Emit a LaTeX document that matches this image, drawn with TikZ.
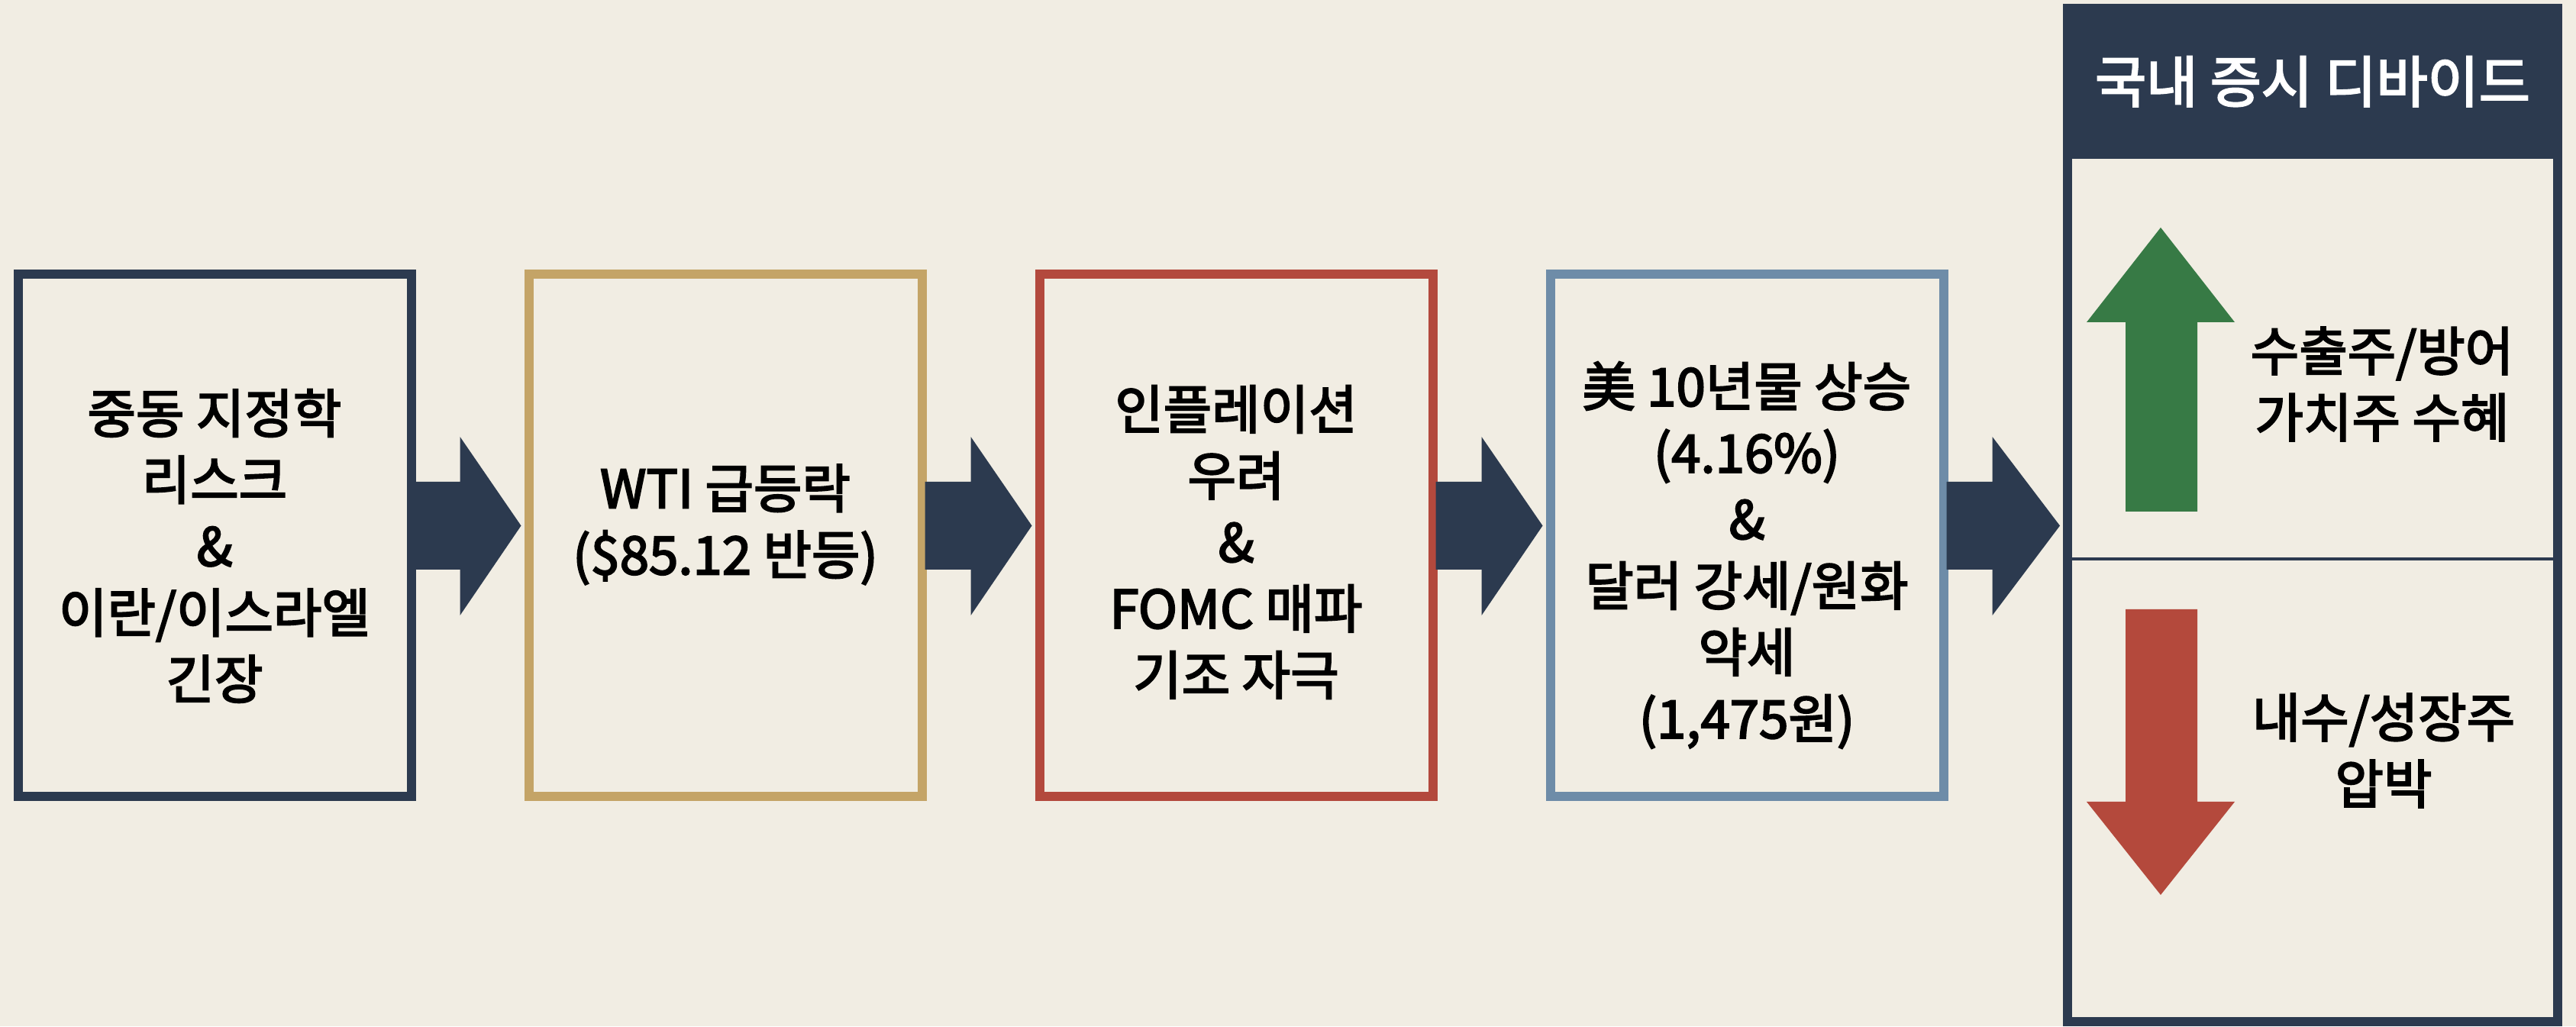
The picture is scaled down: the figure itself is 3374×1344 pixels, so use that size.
\documentclass[tikz,border=0pt]{standalone}
\usepackage{fontspec}
\usetikzlibrary{calc}
\newfontfamily\krf{Noto Sans CJK KR}[FakeBold=3]
\definecolor{bg}{HTML}{F1EDE3}
\definecolor{navy}{HTML}{2C3A4F}
\definecolor{gold}{HTML}{C4A467}
\definecolor{boxred}{HTML}{B3493D}
\definecolor{steel}{HTML}{6E8CA8}
\definecolor{upgreen}{HTML}{377A45}
\definecolor{downred}{HTML}{B4493C}
\newcommand\flowarr[2]{%
  \fill[navy] let \p1=(#1.east), \p2=(#2.west) in
    (\x1-2pt,\y1+70pt) -- (\x1+58pt,\y1+70pt) -- (\x1+58pt,\y1+129pt) --
    (\x2-4pt,\y1+12.5pt) -- (\x1+58pt,\y1-105pt) -- (\x1+58pt,\y1-45pt) --
    (\x1-2pt,\y1-45pt) -- cycle;}
\begin{document}
\begin{tikzpicture}[x=1pt,y=1pt,
  flowbox/.style={draw, line width=12pt, minimum width=515pt, minimum height=684pt, inner sep=0pt},
  boxtext/.style={align=center, font=\krf\fontsize{69}{87}\selectfont, text=black, inner sep=0pt}]
\fill[bg] (0,0) rectangle (3374,1344);
\useasboundingbox (0,0) rectangle (3374,1344);

\node[flowbox, draw=navy] (b1) at (281,643) {};
\node[flowbox, draw=gold] (b2) at (950,643) {};
\node[flowbox, draw=boxred] (b3) at (1619,643) {};
\node[flowbox, draw=steel] (b4) at (2288,643) {};

\node[boxtext] (t1) at (281,629) {중동 지정학\\리스크\\\&\\이란/이스라엘\\긴장};
\node[boxtext] (t2) at (950,657) {WTI 급등락\\(\$85.12 반등)};
\node[boxtext] (t3) at (1619,634) {인플레이션\\우려\\\&\\FOMC 매파\\기조 자극};
\node[boxtext] (t4) at (2288,617) {美 10년물 상승\\(4.16\%)\\\&\\달러 강세/원화\\약세\\(1,475원)};

% right panel
\node[draw=navy, line width=12pt, minimum width=642pt, minimum height=1327pt, inner sep=0pt] (panel) at (3029,669.5) {};
\node[fill=navy, minimum width=654pt, minimum height=203pt, anchor=north, inner sep=0pt,
      text=white, font=\krf\fontsize{73}{87}\selectfont] (hdr) at (panel.north) {국내 증시 디바이드};
\coordinate (divy) at (0,612);
\draw[navy, line width=4pt] (panel.west |- divy) -- (panel.east |- divy);

\flowarr{b1}{b2}
\flowarr{b2}{b3}
\flowarr{b3}{b4}
\flowarr{b4}{panel}

% up / down arrows
\fill[upgreen] (2784,674) -- (2784,922) -- (2733,922) -- (2830,1046) -- (2927,922) -- (2878,922) -- (2878,674) -- cycle;
\fill[downred] (2784,546) -- (2784,294) -- (2733,294) -- (2830,172) -- (2927,294) -- (2878,294) -- (2878,546) -- cycle;

\node[boxtext] (up) at (3120,841) {수출주/방어\\가치주 수혜};
\node[boxtext] (dn) at (3122,361) {내수/성장주\\압박};
\end{tikzpicture}
\end{document}
